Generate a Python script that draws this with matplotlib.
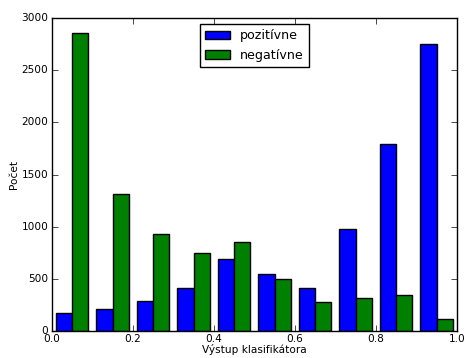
import numpy as np
from matplotlib import pyplot as plt

plt.style.use('classic')
plt.rcParams['font.size'] = 7.6
plt.rcParams['xtick.major.pad'] = 2
plt.rcParams['ytick.major.pad'] = 2.5

# histogram counts, 10 bins over 0..1
edges = np.linspace(0.0, 1.0, 11)
pozitivne = [170, 214, 285, 415, 687, 543, 409, 980, 1791, 2747]
negativne = [2861, 1315, 932, 747, 850, 495, 278, 313, 342, 112]
centers = (edges[:-1] + edges[1:]) / 2

fig = plt.figure(figsize=(4.68, 3.58), dpi=100, facecolor='white')
ax = fig.add_axes([0.111, 0.0754, 0.865, 0.8743])
ax.hist([centers, centers], bins=edges, weights=[pozitivne, negativne],
        rwidth=0.8, color=['b', 'g'], label=['pozitívne', 'negatívne'])
ax.set_xlim(0, 1)
ax.set_ylim(0, 3000)
ax.set_xlabel('Výstup klasifikátora', labelpad=0.5)
ax.set_ylabel('Počet', labelpad=2)
ax.legend(loc='upper center')

fig.savefig('out.png', dpi=100, facecolor='white')
